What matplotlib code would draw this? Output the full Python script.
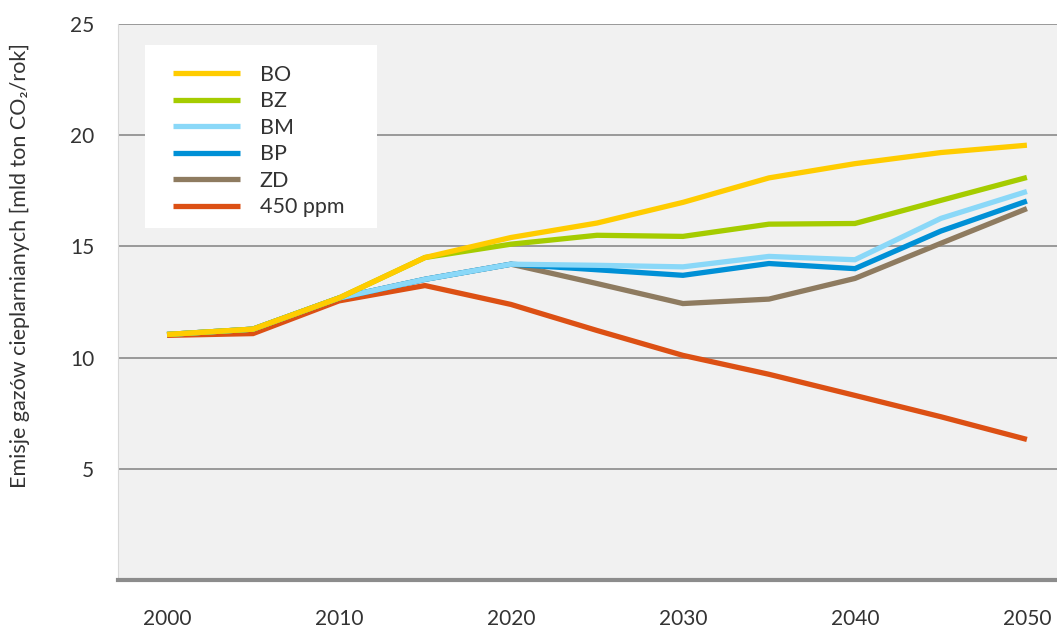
import matplotlib
matplotlib.use("Agg")
import matplotlib.pyplot as plt
import matplotlib.ticker as mticker
from matplotlib.patches import Rectangle

plt.rcParams.update({
    "font.family": ["Lato", "DejaVu Sans"],
    "font.size": 15,
})

# ── Data ──────────────────────────────────────────────────────────────────────
years = [2000, 2005, 2010, 2015, 2020, 2025, 2030, 2035, 2040, 2045, 2050]

bo  = [11.04, 11.28, 12.68, 14.50, 15.40, 16.05, 16.98, 18.08, 18.72, 19.22, 19.55]
bz  = [11.04, 11.28, 12.68, 14.50, 15.10, 15.50, 15.45, 16.00, 16.03, 17.07, 18.10]
bm  = [11.04, 11.28, 12.68, 13.52, 14.20, 14.15, 14.08, 14.55, 14.40, 16.26, 17.47]
bp  = [11.04, 11.28, 12.68, 13.52, 14.20, 13.95, 13.70, 14.23, 14.00, 15.69, 17.04]
zd  = [11.04, 11.28, 12.68, 13.52, 14.20, 13.33, 12.43, 12.63, 13.56, 15.14, 16.70]
ppm = [11.00, 11.08, 12.55, 13.24, 12.39, 11.22, 10.10,  9.25,  8.30,  7.34,  6.32]

series = [
    ("BO",      bo,  "#FFCC00"),
    ("BZ",      bz,  "#A5CC00"),
    ("BM",      bm,  "#8AD8F8"),
    ("BP",      bp,  "#0090D6"),
    ("ZD",      zd,  "#8E7B60"),
    ("450 ppm", ppm, "#DC5014"),
]

TEXT = "#333333"
GRID = "#8a8a8a"

fig = plt.figure(figsize=(10.57, 6.31), dpi=100)
ax = fig.add_axes([118 / 1057, 51 / 631, 939 / 1057, 556 / 631])
ax.set_facecolor("#f1f1f1")

# draw bottom-up so the legend's first series sits on top
handles = {}
n = len(series)
for i, (label, vals, color) in enumerate(series):
    (ln,) = ax.plot(years, vals, color=color, linewidth=3.8,
                    solid_capstyle="butt", solid_joinstyle="miter",
                    zorder=3 + (n - i), label=label)
    handles[label] = ln

ax.set_xlim(1997.15, 2051.75)
ax.set_ylim(0, 25)
ax.set_xticks(range(2000, 2051, 10))
ax.set_yticks([5, 10, 15, 20, 25])
ax.yaxis.set_major_formatter(mticker.FuncFormatter(lambda v, _: f"{int(v)}"))

ax.grid(axis="y", color=GRID, linewidth=1.2, zorder=1)
ax.set_axisbelow(True)

for side in ["top", "right"]:
    ax.spines[side].set_visible(False)
ax.spines["left"].set_color("#d8d8d8")
ax.spines["left"].set_linewidth(0.8)
ax.spines["bottom"].set_color("#8c8c8c")
ax.spines["bottom"].set_linewidth(3)

ax.tick_params(axis="both", length=0, labelsize=15, labelcolor=TEXT)
ax.tick_params(axis="x", pad=21)
ax.tick_params(axis="y", pad=17)

fig.text(20 / 1057, 1 - 266 / 631,
         "Emisje gazów cieplarnianych [mld ton CO₂/rok]",
         rotation=90, ha="center", va="center", fontsize=15.5, color=TEXT)

# white legend panel
ax.add_patch(Rectangle((27 / 939, (580 - 228) / 556), 232 / 939, 183 / 556,
                       transform=ax.transAxes, facecolor="white",
                       edgecolor="none", zorder=20))

leg = ax.legend(
    [handles[s[0]] for s in series], [s[0] for s in series],
    loc="upper left", bbox_to_anchor=(55 / 939, (580 - 65) / 556),
    borderaxespad=0, borderpad=0, frameon=False,
    handlelength=3.1, handletextpad=0.93, labelspacing=0.3, fontsize=15.5,
)
leg.set_zorder(21)
for t in leg.get_texts():
    t.set_color(TEXT)

fig.savefig("out.png", dpi=100, facecolor="white")
